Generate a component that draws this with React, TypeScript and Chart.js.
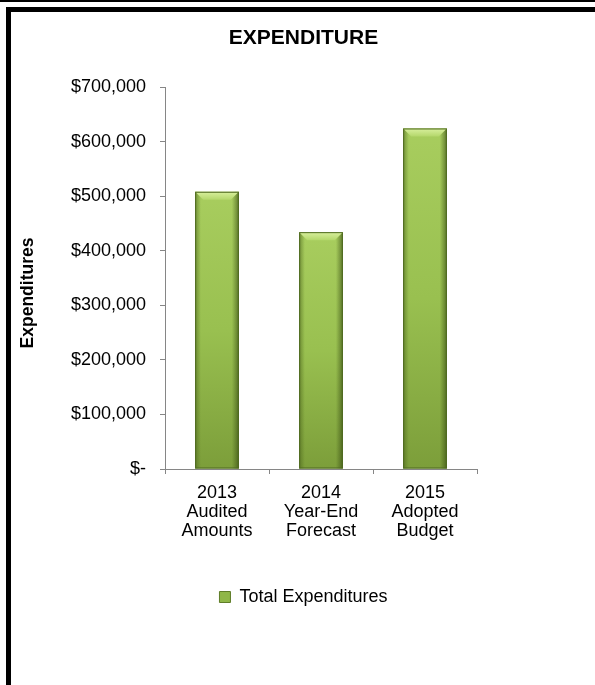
import React, { useEffect, useRef } from "react";
import { Chart, registerables } from "chart.js";

Chart.register(...registerables);

const chartTitle = "EXPENDITURE";
const yAxisTitle = "Expenditures";
const seriesName = "Total Expenditures";
const categories = [
  ["2013", "Audited", "Amounts"],
  ["2014", "Year-End", "Forecast"],
  ["2015", "Adopted", "Budget"],
];
const expenditures = [508000, 434000, 624000];
const yTickValues = [0, 100000, 200000, 300000, 400000, 500000, 600000, 700000];

const FONT = "'Liberation Sans', Arial, sans-serif";

const fmtMoney = (v: number) => (v === 0 ? "$-" : "$" + v.toLocaleString("en-US"));

const bevelPlugin = {
  id: "bevelBars",
  beforeDatasetsDraw(chart: any) {
    const ctx = chart.ctx;
    ctx.save();
    ctx.shadowColor = "rgba(0,0,0,0.28)";
    ctx.shadowBlur = 5;
    ctx.shadowOffsetX = 2;
    ctx.shadowOffsetY = 1;
  },
  afterDatasetsDraw(chart: any) {
    const ctx = chart.ctx;
    ctx.restore();
    const meta = chart.getDatasetMeta(0);
    const area = chart.chartArea;
    meta.data.forEach((el: any) => {
      const { x, y, base, width } = el.getProps(["x", "y", "base", "width"], true);
      const l = x - width / 2;
      const r = x + width / 2;
      const t = Math.min(y, base);
      const b = Math.max(y, base);
      ctx.save();
      ctx.beginPath();
      ctx.rect(area.left, area.top - 2, area.right - area.left, area.bottom - area.top + 2);
      ctx.clip();
      const vg = ctx.createLinearGradient(0, t, 0, b);
      vg.addColorStop(0, "#a8cd5e");
      vg.addColorStop(0.5, "#99c050");
      vg.addColorStop(1, "#7c9e3a");
      ctx.fillStyle = vg;
      ctx.fillRect(l, t, width, b - t);
      const hg = ctx.createLinearGradient(l, 0, r, 0);
      hg.addColorStop(0, "rgba(70,95,25,0.55)");
      hg.addColorStop(0.13, "rgba(70,95,25,0)");
      hg.addColorStop(0.84, "rgba(50,70,15,0)");
      hg.addColorStop(1, "rgba(45,65,12,0.6)");
      ctx.fillStyle = hg;
      ctx.fillRect(l, t, width, b - t);
      const bv = Math.min(8, (b - t) / 2);
      const tg = ctx.createLinearGradient(0, t, 0, t + bv);
      tg.addColorStop(0, "#d9f09e");
      tg.addColorStop(1, "#b4d76b");
      ctx.fillStyle = tg;
      ctx.beginPath();
      ctx.moveTo(l, t);
      ctx.lineTo(r, t);
      ctx.lineTo(r - bv, t + bv);
      ctx.lineTo(l + bv, t + bv);
      ctx.closePath();
      ctx.fill();
      ctx.strokeStyle = "#4f6a20";
      ctx.lineWidth = 1;
      ctx.strokeRect(l + 0.5, t + 0.5, width - 1, b - t - 1);
      ctx.restore();
    });
  },
};

const yTitlePlugin = {
  id: "yTitle",
  afterDraw(chart: any) {
    const ctx = chart.ctx;
    ctx.save();
    ctx.translate(28, 293);
    ctx.rotate(-Math.PI / 2);
    ctx.font = `bold 17.5px ${FONT}`;
    ctx.fillStyle = "#000";
    ctx.textAlign = "center";
    ctx.textBaseline = "middle";
    ctx.fillText(yAxisTitle, 0, 0);
    ctx.restore();
  },
};

export default function App() {
  const canvasRef = useRef<HTMLCanvasElement | null>(null);

  useEffect(() => {
    if (!canvasRef.current) return;
    const chart = new Chart(canvasRef.current, {
      type: "bar",
      data: {
        labels: categories,
        datasets: [
          {
            label: seriesName,
            data: expenditures,
            backgroundColor: "#8fb648",
            borderColor: "#5f7d28",
            borderWidth: 1,
            barPercentage: 0.42,
            categoryPercentage: 1,
          },
        ],
      },
      options: {
        responsive: false,
        animation: false,
        devicePixelRatio: 1,
        layout: { padding: { left: 12, right: 0, top: 0, bottom: 69 } },
        plugins: {
          tooltip: { enabled: false },
          title: {
            display: true,
            text: chartTitle,
            color: "#000",
            font: { family: FONT, size: 21, weight: "bold" },
            padding: { top: 25.4, bottom: 36.4 },
          },
          legend: {
            position: "bottom",
            labels: {
              boxWidth: 11,
              boxHeight: 11,
              padding: 10,
              color: "#000",
              font: { family: FONT, size: 18 },
            },
          },
        },
        scales: {
          x: {
            grid: {
              display: true,
              drawOnChartArea: false,
              drawTicks: true,
              tickLength: 5,
              color: "#868686",
              offset: true,
            },
            border: { display: true, color: "#868686", width: 1, z: 1 },
            ticks: {
              color: "#000",
              font: { family: FONT, size: 18, lineHeight: 1.07 },
              padding: 9,
              maxRotation: 0,
              autoSkip: false,
            },
            afterFit: (s: any) => {
              s.height = 109;
            },
          },
          y: {
            min: 0,
            max: 700000,
            grid: {
              drawOnChartArea: false,
              drawTicks: true,
              tickLength: 5,
              color: "#868686",
            },
            border: { display: true, color: "#868686", width: 1 },
            ticks: {
              color: "#000",
              padding: 14,
              font: { family: FONT, size: 18 },
              callback: (v: any) => fmtMoney(Number(v)),
            },
            afterBuildTicks: (s: any) => {
              s.ticks = yTickValues.map((v) => ({ value: v }));
            },
            afterFit: (s: any) => {
              s.width = 153;
            },
          },
          y2: {
            position: "right",
            display: true,
            grid: { display: false },
            border: { display: false },
            ticks: { display: false },
            afterFit: (s: any) => {
              s.width = 118;
            },
          },
        },
      },
      plugins: [bevelPlugin, yTitlePlugin],
    } as any);
    return () => chart.destroy();
  }, []);

  return (
    <div style={{ position: "absolute", left: 0, top: 0, width: 595, height: 685, background: "#fff", overflow: "hidden" }}>
      <div style={{ position: "absolute", left: 0, top: 0, width: 595, height: 2, background: "#000" }} />
      <div
        style={{
          position: "absolute",
          left: 6,
          top: 7,
          width: 589,
          height: 678,
          borderTop: "5px solid #000",
          borderLeft: "5px solid #000",
          boxSizing: "border-box",
        }}
      />
      <canvas ref={canvasRef} width={595} height={685} style={{ position: "absolute", left: 0, top: 0 }} />
    </div>
  );
}
